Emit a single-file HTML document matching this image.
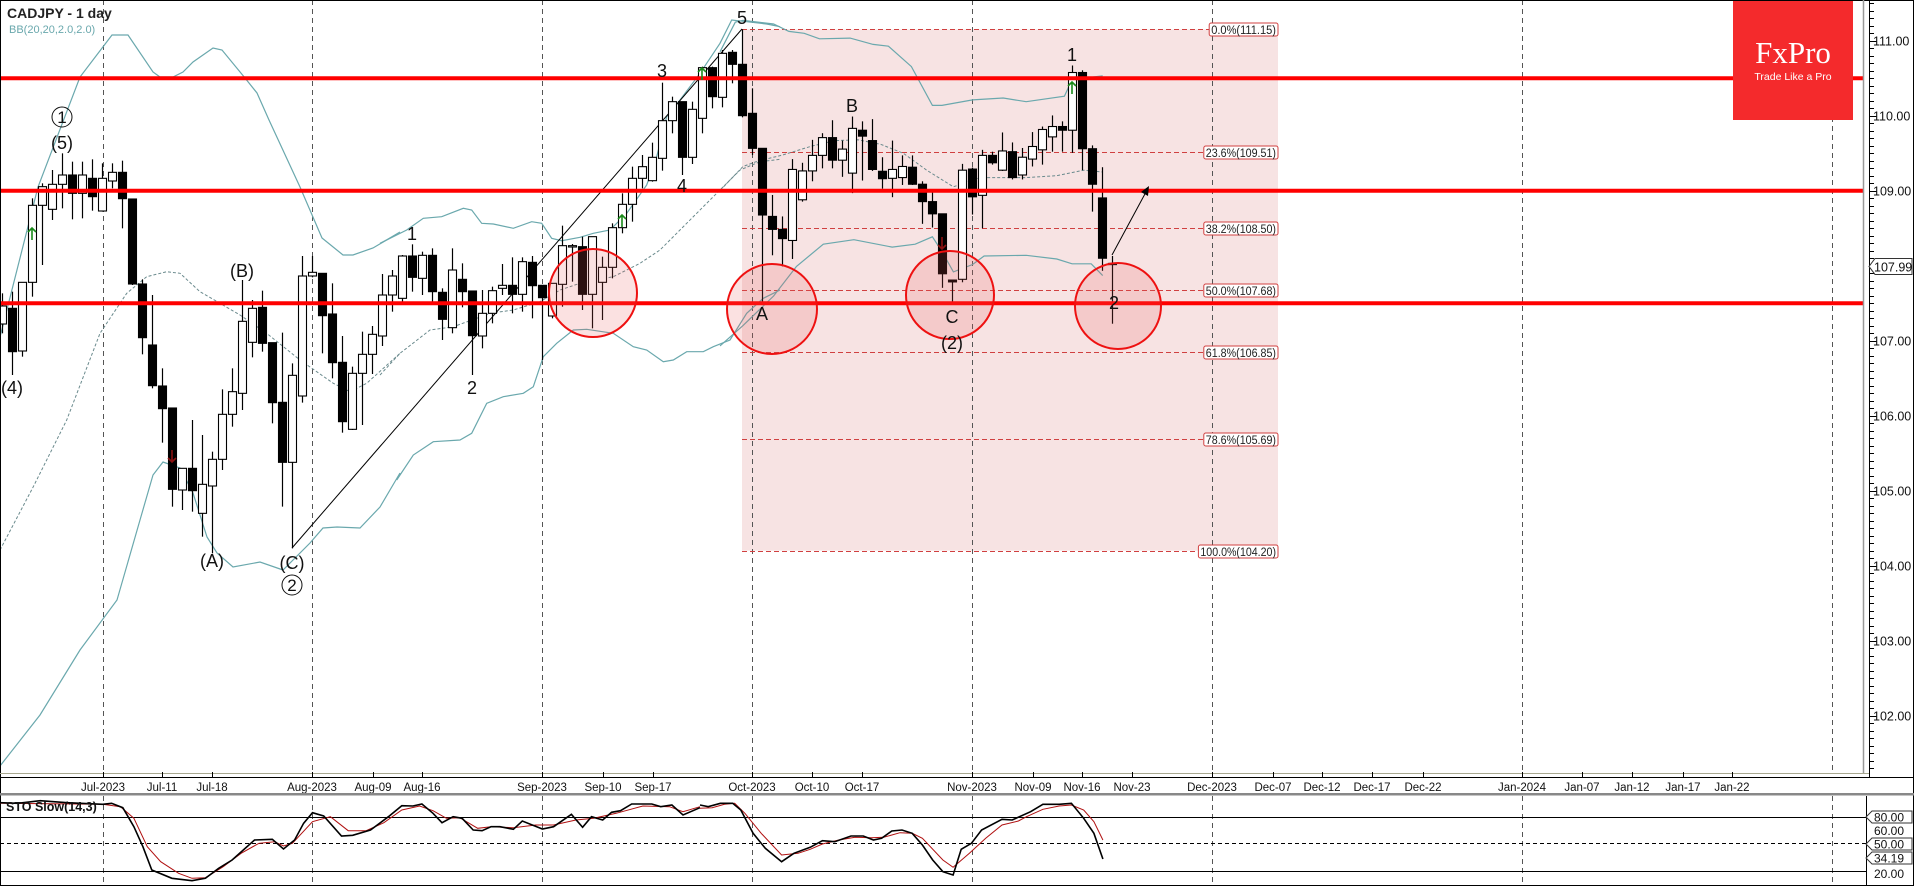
<!DOCTYPE html>
<html><head><meta charset="utf-8">
<style>
html,body{margin:0;padding:0;background:#fff;}
svg{display:block;font-family:"Liberation Sans",sans-serif;}
</style></head>
<body>
<svg id="c" xmlns="http://www.w3.org/2000/svg" width="1914" height="886" viewBox="0 0 1914 886">
<rect x="0" y="0" width="1914" height="886" fill="#fff"/>
<g id="bg"></g>
<g id="main"></g>
</svg>
<script>
(function(){
var NS="http://www.w3.org/2000/svg";
var bg=document.getElementById('bg'), g=document.getElementById('main');
function el(p,tag,a,txt){var e=document.createElementNS(NS,tag);for(var k in a)e.setAttribute(k,a[k]);if(txt!==undefined)e.textContent=txt;p.appendChild(e);return e;}
function Y(p){return 40.7+(111-p)*75;}
var R=1863;
el(bg,'rect',{x:742,y:Y(111.15),width:536,height:Y(104.2)-Y(111.15),fill:'#f7e3e3'});
[103,312,542,752,972,1212,1522,1832].forEach(function(x){
 el(bg,'line',{x1:x+.5,y1:0,x2:x+.5,y2:773,stroke:'#555','stroke-width':1,'stroke-dasharray':'5,4'});
 el(bg,'line',{x1:x+.5,y1:796,x2:x+.5,y2:885,stroke:'#555','stroke-width':1,'stroke-dasharray':'5,4'});
});
var fib=[["0.0%",111.15],["23.6%",109.51],["38.2%",108.50],["50.0%",107.68],["61.8%",106.85],["78.6%",105.69],["100.0%",104.20]];
fib.forEach(function(f){var y=Math.round(Y(f[1]))+.5;
 el(bg,'line',{x1:742,y1:y,x2:1278,y2:y,stroke:'#d04040','stroke-width':1,'stroke-dasharray':'5,3'});
 var t=f[0]+"("+f[1].toFixed(2)+")";var w=t.length*5.4+4;
 el(bg,'rect',{x:1278-w,y:y-6.5,width:w,height:13,rx:2,fill:'#fff',stroke:'#d04040','stroke-width':1});
 el(bg,'text',{x:1276,y:y+4.5,'font-size':'11.5','text-anchor':'end',fill:'#222',textLength:w-4,lengthAdjust:'spacingAndGlyphs'},t);
});
function poly(pts,fx,fy,attrs){var s=pts.map(function(p){return (fx(p[0])).toFixed(1)+","+(fy(p[1])).toFixed(1);}).join(" ");var a={points:s,fill:'none'};for(var k in attrs)a[k]=attrs[k];el(g,'polyline',a);}
var I=function(v){return v;};
var z7x=function(x){return x/3;},z7y=function(y){return y/3+120;};
var z8x=function(x){return x/3+380;},z8y=function(y){return y/3;};
var z6x=function(x){return x/2.613+720;},z6y=function(y){return y/2.703;};
var bb={stroke:'#6aa8ad','stroke-width':1.2};
var bbm={stroke:'#6a8a8d','stroke-width':1,'stroke-dasharray':'3,2'};
poly([[0,337],[38,187],[80,77],[112,35],[128,35],[153,72],[160,77],[173,77],[183,72],[193,62],[213,48],[222,50],[245,78],[257,93],[269,120],[300,187],[322,238],[343,255],[353,255],[373,248],[400,232]],I,I,bb);
poly([[0,730],[80,690],[130,655],[185,650],[250,625],[275,630],[305,670],[340,672],[400,685],[455,665],[485,670],[515,715],[545,722],[600,712],[640,700],[690,690],[740,640],[800,555],[830,470],[860,350],[900,300],[960,220],[1020,130],[1055,60],[1100,65],[1160,72],[1200,80]],z8x,z8y,bb);
poly([[0,140],[40,60],[60,55],[140,65],[180,85],[220,90],[260,105],[340,103],[400,120],[440,125],[500,180],[555,285],[580,285],[660,270],[740,265],[800,275],[900,260],[920,215],[1000,205]],z6x,z6y,bb);
poly([[0,1290],[100,1100],[200,900],[300,640],[380,520],[440,470],[500,455],[540,460],[600,515],[660,550],[720,585],[800,640],[900,720],[1000,790],[1050,815],[1100,790],[1200,700]],z7x,z7y,bbm);
poly([[0,1125],[60,1060],[150,990],[220,980],[290,955],[330,940],[400,930],[480,905],[540,870],[600,850],[700,830],[780,790],[840,750],[890,700],[950,640],[1010,580],[1080,510],[1140,485],[1200,478]],z8x,z8y,bbm);
poly([[0,515],[60,450],[100,435],[160,420],[240,395],[300,380],[360,378],[420,390],[480,415],[540,460],[610,505],[680,480],[800,480],[880,475],[950,460],[1000,465]],z6x,z6y,bbm);
poly([[0,766],[40,715],[80,650],[117,600],[140,520],[153,475],[163,462],[180,468],[193,493],[207,537],[217,553],[233,567],[260,562],[283,570],[310,543],[323,528],[337,527],[360,528],[380,507],[400,473]],I,I,bb);
poly([[50,1440],[100,1365],[160,1325],[240,1320],[275,1300],[320,1210],[370,1190],[430,1180],[460,1160],[490,1070],[530,1030],[580,990],[620,988],[700,1000],[760,1040],[800,1050],[850,1085],[880,1080],[920,1055],[970,1055],[1000,1040],[1050,1020],[1100,940],[1150,895],[1200,870]],z8x,z8y,bb);
poly([[0,935],[60,880],[140,800],[200,720],[270,660],[350,648],[450,668],[510,660],[555,640],[580,680],[610,735],[660,715],[690,692],[800,690],[880,700],[920,713],[970,713],[1000,745]],z6x,z6y,bb);
el(g,'line',{x1:292,y1:548,x2:742,y2:29,stroke:'#000','stroke-width':1});
var A=[
['w',558,612,520,640],['b',565,695,515,765],['w',487,693,487,710],['w',256,487,235,530],['w',200,256,190,435],
['w',193,268,150,300],['w',165,193,100,265],['b',165,220,125,298],['w',165,220,125,295],['b',175,230,118,272],
['w',175,273,130,275],['w',157,183,130,205],['b',157,236,122,325],['b',237,492,237,495],['b',492,653,478,703],
['b',675,797,525,805],['b',798,866,745,968],['b',864,1108,864,1160],['w',1045,1110,1045,1170],['b',1045,1112,900,1175],
['w',1093,1180,945,1250],['w',1018,1098,995,1300],['w',883,1018,808,1050],['w',815,883,745,920],['w',604,820,480,870],
['w',565,667,540,712],['b',562,670,512,695],['b',668,848,668,910],['b',847,1027,638,1160],['w',766,1027,730,1285],
['w',468,828,408,848],['w',457,468,408,472],['b',460,587,460,700],['b',582,728,490,775],['b',727,905,648,938],
['w',760,928,740,930],['w',703,760,635,915],['w',643,703,618,762],['w',525,648,462,678],['w',468,525,450,575]];
var B=[
['w',768,895,765,905],['b',768,832,733,875],['w',766,835,755,885],['b',766,875,745,905],['b',877,958,865,1020],
['w',810,983,745,1000],['b',838,875,790,922],['b',873,1007,873,1125],['w',940,1008,870,1045],['w',872,940,860,970],
['w',856,865,792,885],['b',856,883,772,940],['w',785,883,772,935],['b',787,857,768,955],['b',856,893,856,1080],
['w',850,948,850,955],['w',737,853,677,920],['w',737,741,732,845],['b',740,883,710,930],['w',710,883,710,985],
['w',802,847,770,960],['w',683,802,670,835],['w',613,683,580,700],['w',535,613,500,665],['w',500,535,465,565],
['w',472,542,428,545],['w',362,475,248,512],['w',305,362,290,400],['b',305,472,305,525],['w',328,472,305,492],
['w',203,355,200,400],['b',203,290,200,325],['w',160,292,150,322],['b',157,193,150,250],['b',193,347,88,352],
['b',340,445,265,465],['b',445,645,445,905]];
var C=[
['b',585,620,527,690],['b',620,645,585,720],['w',458,650,430,700],['w',462,540,440,545],['w',420,462,378,490],
['w',372,420,360,455],['b',372,433,325,455],['w',403,433,380,478],['w',347,468,315,522],['b',352,368,328,488],
['b',380,458,322,462],['b',463,483,425,510],['w',458,482,380,533],['w',450,480,420,500],['b',452,498,420,500],
['b',498,545,490,605],['b',545,578,520,615],['b',578,740,578,778],['b',757,762,757,815],['w',460,755,443,763],
['b',457,532,453,580],['w',420,528,405,617],['b',420,440,410,445],['w',408,460,358,462],['b',410,480,385,485],
['w',425,473,400,485],['w',396,430,357,450],['w',350,405,342,445],['w',342,370,312,410],['b',342,352,328,410],
['w',196,352,177,413],['b',196,402,190,460],['b',402,498,393,572],['b',535,698,452,732],['b',712,715,692,875]];
function candle(k,d,fy){var x=2.3+10*k;var bt=fy(d[1]),bbt=fy(d[2]),wt=fy(d[3]),wb=fy(d[4]);
 var xc=Math.round(x)+.5;
 el(g,'line',{x1:xc,y1:wt,x2:xc,y2:wb,stroke:'#000','stroke-width':1.2});
 var h=Math.max(bbt-bt,1.2);
 el(g,'rect',{x:xc-4,y:bt,width:8,height:h,fill:d[0]=='w'?'#fff':'#000',stroke:'#000','stroke-width':1.1});
}
A.forEach(function(d,i){candle(i,d,z7y);});
B.forEach(function(d,i){candle(40+i,d,z8y);});
C.forEach(function(d,i){candle(77+i,d,z6y);});
[110.5,109.0,107.5].forEach(function(p){el(g,'line',{x1:0,y1:Y(p),x2:R,y2:Y(p),stroke:'#ff0000','stroke-width':4});});
[[593,293,44],[772,309,45],[950,295,44],[1118,306,43]].forEach(function(c){
 el(g,'circle',{cx:c[0],cy:c[1],r:c[2],fill:'rgba(235,90,90,0.18)',stroke:'#ee1111','stroke-width':2});});
el(g,'line',{x1:1112,y1:255,x2:1146,y2:192,stroke:'#000','stroke-width':1});
el(g,'polygon',{points:'1149,186 1141,192 1148,196',fill:'#000'});
function up(x,y){el(g,'path',{d:'M'+x+' '+(y+7)+'V'+(y-5)+'M'+(x-4)+' '+(y-1)+'L'+x+' '+(y-5)+'L'+(x+4)+' '+(y-1),stroke:'#1a8a1a','stroke-width':1.6,fill:'none'});}
function dn(x,y){el(g,'path',{d:'M'+x+' '+(y-7)+'V'+(y+5)+'M'+(x-4)+' '+(y+1)+'L'+x+' '+(y+5)+'L'+(x+4)+' '+(y+1),stroke:'#8a1010','stroke-width':1.6,fill:'none'});}
up(32,233);up(622,220);up(702,73);up(1072,87);dn(172,457);dn(942,244);
var L=[["(4)",12,394],["(5)",62,149],["(B)",242,277],["(A)",212,567],["(C)",292,569],["1",412,240],["2",472,394],["3",662,77],["4",682,192],["5",742,24],["A",762,320],["B",852,112],["C",952,323],["(2)",952,349],["1",1072,61],["2",1114,309]];
L.forEach(function(l){el(g,'text',{x:l[1],y:l[2],'font-size':'18','text-anchor':'middle',fill:'#111'},l[0]);});
[[62,117,"1"],[292,585,"2"]].forEach(function(c){el(g,'circle',{cx:c[0],cy:c[1],r:10,fill:'none',stroke:'#111','stroke-width':1});el(g,'text',{x:c[0],y:c[1]+6,'font-size':'17','text-anchor':'middle',fill:'#111'},c[2]);});
el(g,'text',{x:7,y:18,'font-size':'14','font-weight':'bold',fill:'#222'},"CADJPY - 1 day");
el(g,'text',{x:9,y:33,'font-size':'11',fill:'#6aa8ad'},"BB(20,20,2.0,2.0)");
el(g,'rect',{x:1733,y:0,width:120,height:120,fill:'#f42a2c'});
el(g,'text',{x:1793,y:63,'font-size':'31','text-anchor':'middle',fill:'#fff','font-family':'Liberation Serif,serif'},"FxPro");
el(g,'text',{x:1793,y:80,'font-size':'10.5','text-anchor':'middle',fill:'#fff'},"Trade Like a Pro");
el(g,'line',{x1:0.5,y1:0,x2:0.5,y2:886,stroke:'#000'});
el(g,'line',{x1:0,y1:0.5,x2:1914,y2:0.5,stroke:'#000'});
el(g,'line',{x1:1913.5,y1:0,x2:1913.5,y2:886,stroke:'#000'});
el(g,'line',{x1:R+.5,y1:0,x2:R+.5,y2:773,stroke:'#999','stroke-width':1.5});
el(g,'line',{x1:1869.5,y1:0,x2:1869.5,y2:777,stroke:'#000'});
for(var i=0;i<=110;i++){var p=101+i*0.1;var y=Y(p);if(y<2||y>770)continue;var maj=(i%10==0);
 el(g,'line',{x1:1869,y1:Math.round(y)+.5,x2:maj?1877:1874,y2:Math.round(y)+.5,stroke:'#000'});}
for(var p=102;p<=111;p++){el(g,'text',{x:1873,y:Y(p)+5,'font-size':'12.5',fill:'#111'},p.toFixed(2));}
var yc=Y(107.99);
el(g,'path',{d:'M1869 '+yc+' L1875 '+(yc-8)+' H1912 V'+(yc+8)+' H1875 Z',fill:'#fff',stroke:'#333'});
el(g,'text',{x:1874,y:yc+5,'font-size':'12.5',fill:'#111'},"107.99");
el(g,'line',{x1:0,y1:773.5,x2:1869,y2:773.5,stroke:'#a8a890'});
el(g,'line',{x1:0,y1:777.5,x2:1914,y2:777.5,stroke:'#000'});
var D=[["Jul-2023",103],["Jul-11",162],["Jul-18",212],["Aug-2023",312],["Aug-09",373],["Aug-16",422],["Sep-2023",542],["Sep-10",603],["Sep-17",653],["Oct-2023",752],["Oct-10",812],["Oct-17",862],["Nov-2023",972],["Nov-09",1033],["Nov-16",1082],["Nov-23",1132],["Dec-2023",1212],["Dec-07",1273],["Dec-12",1322],["Dec-17",1372],["Dec-22",1423],["Jan-2024",1522],["Jan-07",1582],["Jan-12",1632],["Jan-17",1683],["Jan-22",1732]];
D.forEach(function(d){el(g,'line',{x1:d[1]+.5,y1:772,x2:d[1]+.5,y2:777,stroke:'#000'});
 el(g,'text',{x:d[1],y:791,'font-size':'11.5','text-anchor':'middle',fill:'#111'},d[0]);});
el(g,'rect',{x:0,y:793,width:1914,height:2.5,fill:'#888'});
el(g,'line',{x1:0,y1:817.5,x2:1866,y2:817.5,stroke:'#000'});
el(g,'line',{x1:0,y1:843.5,x2:1866,y2:843.5,stroke:'#000','stroke-dasharray':'4,3'});
el(g,'line',{x1:0,y1:871.5,x2:1866,y2:871.5,stroke:'#000'});
el(g,'line',{x1:0,y1:885.5,x2:1914,y2:885.5,stroke:'#000'});
el(g,'line',{x1:1866.5,y1:796,x2:1866.5,y2:886,stroke:'#000'});
var z3x=function(x){return x/2.24;},z3y=function(y){return 760+y/3;};
var z5x=function(x){return 700+x/2.45;};
poly([[0,130],[230,133],[270,140],[300,175],[330,260],[360,305],[400,340],[430,355],[460,353],[500,320],[540,280],[580,250],[615,245],[635,258],[655,250],[700,185],[740,170],[780,212],[820,212],[860,188],[900,150],[940,138],[970,152],[1000,175],[1030,173],[1070,205],[1100,200],[1150,203],[1200,195],[1240,195],[1290,180],[1330,175],[1380,160],[1440,138],[1500,140],[1530,155],[1568,140]],z3x,z3y,{stroke:'#b01010','stroke-width':1});
poly([[0,145],[30,143],[60,133],[85,130],[110,160],[150,220],[200,285],[240,280],[270,268],[300,252],[340,240],[380,232],[420,233],[450,232],[490,218],[520,220],[545,235],[595,300],[620,322],[660,280],[700,235],[740,195],[780,183],[800,170],[840,148],[880,138],[910,135],[940,150],[965,185],[987,240]],z5x,z3y,{stroke:'#b01010','stroke-width':1});
poly([[0,128],[40,130],[90,122],[150,128],[230,133],[250,130],[275,143],[300,200],[320,260],[340,330],[385,355],[430,362],[460,355],[490,325],[520,300],[545,270],[570,240],[610,238],[635,267],[660,240],[680,190],[700,158],[725,168],[765,228],[790,226],[830,210],[870,170],[900,137],[925,138],[945,132],[970,160],[990,188],[1015,170],[1035,175],[1060,210],[1080,212],[1100,200],[1120,200],[1150,208],[1170,183],[1215,207],[1240,200],[1280,163],[1305,202],[1325,170],[1350,180],[1370,157],[1390,152],[1415,132],[1460,132],[1480,140],[1505,135],[1530,165],[1568,143]],z3x,z3y,{stroke:'#000','stroke-width':1.6});
poly([[0,135],[20,140],[50,130],[80,130],[100,150],[130,220],[160,265],[200,305],[230,280],[270,262],[300,242],[330,245],[370,228],[400,228],[425,240],[445,235],[470,213],[495,210],[520,220],[545,255],[570,300],[595,335],[620,345],[640,268],[665,250],[690,210],[740,178],[765,180],[810,155],[840,133],[880,133],[910,130],[940,175],[965,220],[987,297]],z5x,z3y,{stroke:'#000','stroke-width':1.6});
el(g,'text',{x:6,y:811,'font-size':'12.5','font-weight':'bold',fill:'#111'},"STO Slow(14,3)");
function tag(v,y){el(g,'path',{d:'M1866 '+y+' L1872 '+(y-6)+' H1912 V'+(y+6)+' H1872 Z',fill:'#fff',stroke:'#333'});
 el(g,'text',{x:1874,y:y+4.5,'font-size':'12',fill:'#111'},v);}
el(g,'text',{x:1874,y:835,'font-size':'12',fill:'#111'},"60.00");
el(g,'text',{x:1874,y:878,'font-size':'12',fill:'#111'},"20.00");
tag("80.00",817);tag("50.00",844);tag("34.19",858);
})();
</script>
</body></html>
